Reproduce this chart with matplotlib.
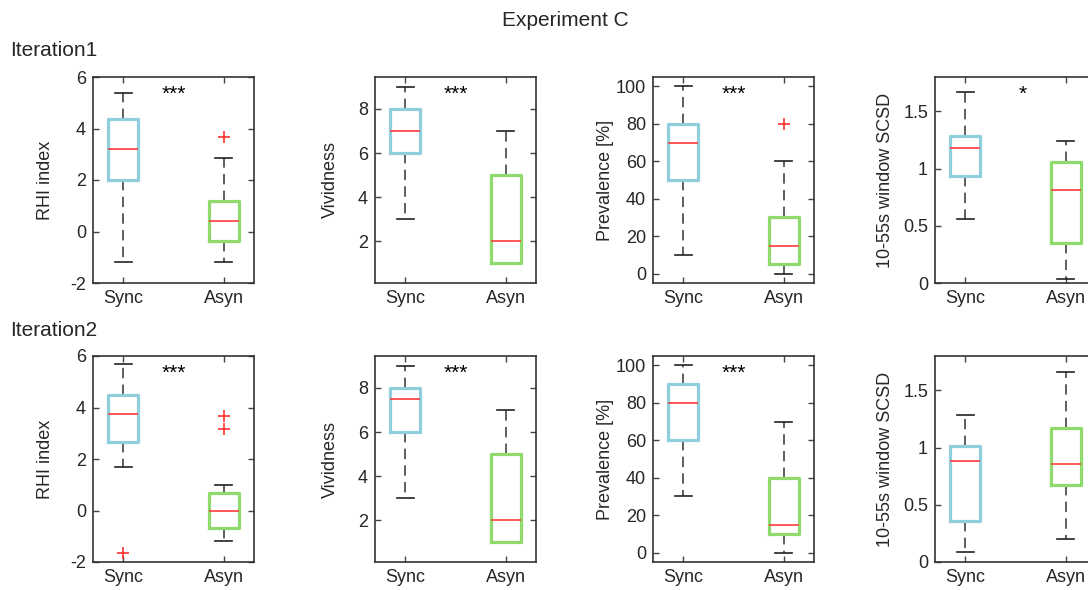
import matplotlib
matplotlib.use("Agg")
import matplotlib.pyplot as plt

plt.rcParams['font.family'] = ['Liberation Sans', 'DejaVu Sans']
plt.rcParams['lines.scale_dashes'] = False

# ---------------- data (whislo, q1, median, q3, whishi) ----------------
groups = ["Sync", "Asyn"]
row_titles = ["Iteration1", "Iteration2"]
ylabels = ["RHI index", "Vividness", "Prevalence [%]", "10-55s window SCSD"]

rhi_it1_sync = [-1.18, 2.0, 3.2, 4.38, 5.38]
rhi_it1_asyn = [-1.18, -0.35, 0.42, 1.17, 2.85]
rhi_it1_sync_out = []
rhi_it1_asyn_out = [3.68]

viv_it1_sync = [3, 6, 7, 8, 9]
viv_it1_asyn = [1, 1, 2, 5, 7]
viv_it1_sync_out = []
viv_it1_asyn_out = []

prev_it1_sync = [10, 50, 70, 80, 100]
prev_it1_asyn = [0, 5, 15, 30, 60]
prev_it1_sync_out = []
prev_it1_asyn_out = [80]

scsd_it1_sync = [0.556, 0.936, 1.178, 1.287, 1.667]
scsd_it1_asyn = [0.038, 0.351, 0.81, 1.056, 1.243]
scsd_it1_sync_out = []
scsd_it1_asyn_out = []

rhi_it2_sync = [1.68, 2.67, 3.75, 4.5, 5.68]
rhi_it2_asyn = [-1.17, -0.68, 0.0, 0.68, 1.0]
rhi_it2_sync_out = [-1.66]
rhi_it2_asyn_out = [3.15, 3.66]

viv_it2_sync = [3, 6, 7.5, 8, 9]
viv_it2_asyn = [1, 1, 2, 5, 7]
viv_it2_sync_out = []
viv_it2_asyn_out = []

prev_it2_sync = [30, 60, 80, 90, 100]
prev_it2_asyn = [0, 10, 15, 40, 70]
prev_it2_sync_out = []
prev_it2_asyn_out = []

scsd_it2_sync = [0.088, 0.36, 0.886, 1.012, 1.287]
scsd_it2_asyn = [0.199, 0.673, 0.854, 1.173, 1.664]
scsd_it2_sync_out = []
scsd_it2_asyn_out = []

significance_it1 = ["***", "***", "***", "*"]
significance_it2 = ["***", "***", "***", ""]

yticks = [[-2, 0, 2, 4, 6], [2, 4, 6, 8], [0, 20, 40, 60, 80, 100], [0, 0.5, 1, 1.5]]
yticklabels = [["-2", "0", "2", "4", "6"], ["2", "4", "6", "8"],
               ["0", "20", "40", "60", "80", "100"], ["0", "0.5", "1", "1.5"]]
ylims = [(-2, 6), (0.1, 9.45), (-5, 105), (0, 1.8)]

panels = [
    [(rhi_it1_sync, rhi_it1_sync_out, rhi_it1_asyn, rhi_it1_asyn_out),
     (viv_it1_sync, viv_it1_sync_out, viv_it1_asyn, viv_it1_asyn_out),
     (prev_it1_sync, prev_it1_sync_out, prev_it1_asyn, prev_it1_asyn_out),
     (scsd_it1_sync, scsd_it1_sync_out, scsd_it1_asyn, scsd_it1_asyn_out)],
    [(rhi_it2_sync, rhi_it2_sync_out, rhi_it2_asyn, rhi_it2_asyn_out),
     (viv_it2_sync, viv_it2_sync_out, viv_it2_asyn, viv_it2_asyn_out),
     (prev_it2_sync, prev_it2_sync_out, prev_it2_asyn, prev_it2_asyn_out),
     (scsd_it2_sync, scsd_it2_sync_out, scsd_it2_asyn, scsd_it2_asyn_out)],
]
significance = [significance_it1, significance_it2]

# ---------------- styling ----------------
W, H = 1088, 590
fig = plt.figure(figsize=(W / 100, H / 100), dpi=100)

col_left_px = [93, 375, 653, 935]
ax_w_px = 161
row_top_px = [77, 356]
ax_h_px = 206

box_colors = ["#8fcfdd", "#8fda6c"]
dark = "#262626"
label_x = [-0.242, -0.222, -0.242, -0.252]
star_x = [1.5, 1.5, 1.5, 1.57]

for r in range(2):
    for c in range(4):
        left = col_left_px[c] / W
        bottom = 1 - (row_top_px[r] + ax_h_px) / H
        ax = fig.add_axes([left, bottom, ax_w_px / W, ax_h_px / H])
        s_sync, o_sync, s_asyn, o_asyn = panels[r][c]
        stats = []
        for g, s, o in zip(groups, [s_sync, s_asyn], [o_sync, o_asyn]):
            stats.append(dict(whislo=s[0], q1=s[1], med=s[2], q3=s[3],
                              whishi=s[4], fliers=o, label=g))
        res = ax.bxp(stats, positions=[1, 2], widths=0.3, capwidths=0.17,
                     showfliers=True,
                     boxprops=dict(linewidth=2.3, zorder=3),
                     medianprops=dict(color="#ff3b3b", linewidth=1.2, zorder=4),
                     whiskerprops=dict(color="#333333", linewidth=1.1,
                                       linestyle=(0, (7.5, 4.5)), zorder=2),
                     capprops=dict(color="#222222", linewidth=1.2, zorder=2),
                     flierprops=dict(marker="+", markeredgecolor="#ff3030",
                                     markersize=9, markeredgewidth=1.2,
                                     linestyle="none"))
        for b, col in zip(res['boxes'], box_colors):
            b.set_color(col)
            b.set_solid_joinstyle('round')
        ax.set_xlim(0.7, 2.3)
        ax.set_ylim(*ylims[c])
        ax.set_yticks(yticks[c])
        ax.set_yticklabels(yticklabels[c])
        ax.set_xticks([1, 2])
        ax.set_xticklabels(groups)
        ax.tick_params(direction="in", top=True, right=True, length=4,
                       width=1, color="#444444", labelsize=13,
                       labelcolor=dark, pad=5)
        for sp in ax.spines.values():
            sp.set_color("#333333")
            sp.set_linewidth(1.2)
        ax.set_ylabel(ylabels[c], fontsize=13, color=dark)
        ax.yaxis.set_label_coords(label_x[c], 0.5)
        sig = significance[r][c]
        if sig:
            ax.text(star_x[c], 0.915, sig, transform=ax.get_xaxis_transform(),
                    ha="center", va="center", fontsize=15, color="black")

fig.text(565 / W, 1 - 20 / H, "Experiment C", ha="center", va="center",
         fontsize=15, color=dark)
fig.text(10 / W, 1 - 50 / H, row_titles[0], ha="left", va="center",
         fontsize=15, color=dark)
fig.text(10 / W, 1 - 330 / H, row_titles[1], ha="left", va="center",
         fontsize=15, color=dark)

fig.savefig("out.png", dpi=100)
